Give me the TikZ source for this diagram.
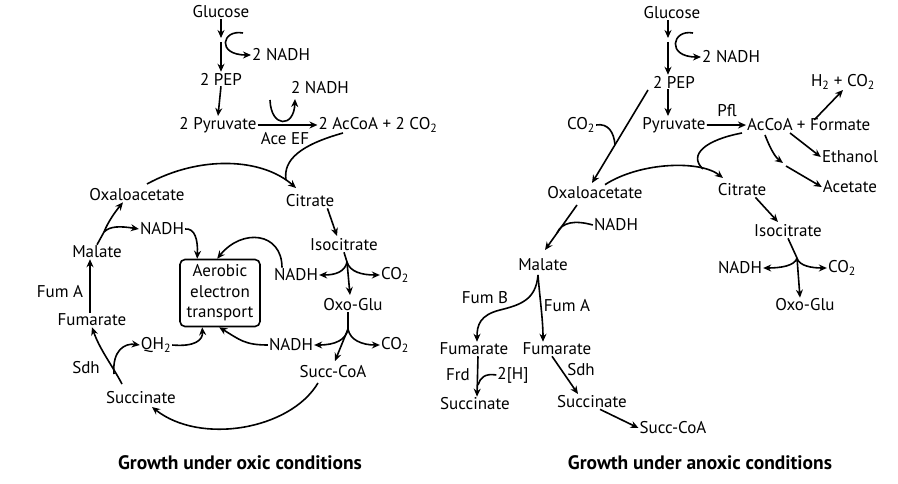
\documentclass[tikz,border=0pt]{standalone}
\usepackage{fontspec}
\setmainfont{PT Sans}
\usetikzlibrary{arrows.meta,calc}
\begin{document}
\begin{tikzpicture}[x=1pt,y=-1pt,
  txt/.style={font=\fontsize{17}{20}\selectfont, inner sep=1pt},
  ttl/.style={font=\fontsize{19.5}{22}\selectfont\bfseries, inner sep=1pt},
  arr/.style={-{Stealth[length=8pt,width=7pt]}, line width=1.6pt},
  ln/.style={line width=1.6pt},
  ebox/.style={draw, line width=1.6pt, rounded corners=5pt, minimum width=80pt, minimum height=67pt, align=center, inner sep=1pt, font=\fontsize{17}{20.5}\selectfont}]
\useasboundingbox (0,0) rectangle (898,484);
% ---------------- LEFT: oxic ----------------
\node[txt] (gluL) at (221,12) {Glucose};
\node[txt,anchor=west] (nadh1L) at (251,55) {2 NADH};
\node[txt] (pepL) at (221,79) {2 PEP};
\node[txt] (pyrL) at (218,125) {2 Pyruvate};
\node[txt] (aceL) at (285,139) {Ace EF};
\node[txt] (nadh2L) at (320,88) {2 NADH};
\node[txt] (accoaL) at (378,125) {2 AcCoA + 2 CO\textsubscript{2}};
\node[txt] (oaaL) at (137,195) {Oxaloacetate};
\node[txt] (citL) at (310,201) {Citrate};
\node[txt] (isoL) at (344,245) {Isocitrate};
\node[txt] (nadh3L) at (296,275) {NADH};
\node[txt] (co2aL) at (395,275) {CO\textsubscript{2}};
\node[txt] (oxoL) at (353,305) {Oxo-Glu};
\node[txt] (nadh4L) at (291,345) {NADH};
\node[txt] (co2bL) at (395,345) {CO\textsubscript{2}};
\node[txt] (succoaL) at (333,372) {Succ-CoA};
\node[txt] (succL) at (141,398) {Succinate};
\node[txt] (fumL) at (92,320) {Fumarate};
\node[txt] (malL) at (97,252) {Malate};
\node[txt] (nadh5L) at (162,229) {NADH};
\node[txt] (qh2L) at (156,345) {QH\textsubscript{2}};
\node[txt] (sdhL) at (86,368) {Sdh};
\node[txt] (fumAL) at (60,292) {Fum A};
\node[ebox] (box) at (220,293) {Aerobic\\electron\\transport};
\node[ttl] (titleL) at (240,463) {Growth under oxic conditions};

\coordinate (g1) at (221,38);
\coordinate (g2) at (221,42);
\draw[arr] (gluL.south) -- (g1);
\draw[arr] (g2) -- (pepL.north);
\coordinate (n1s) at (243,33);
\draw[arr] (n1s) .. controls (222,29) and (216,55) .. (nadh1L.west);
\draw[arr] (pepL.south) -- (pyrL.north);
\draw[arr] (pyrL.east) -- (accoaL.west);
\coordinate (n2s) at (270,100);
\coordinate (n2e) at (295,99);
\draw[arr] (n2s) .. controls (271,128) and (294,128) .. (n2e);
\coordinate (citIn) at (296,188);
\coordinate (acs) at (343,133);
\draw[ln] (acs) .. controls (300,145) and (283,160) .. (286,180);
\coordinate (oaas) at (147,184);
\draw[arr] (oaas) .. controls (200,155) and (262,158) .. (citIn);
\draw[arr] (citL.south east) ++(-8,0) coordinate (cs) -- (337,236);
% isocitrate branch
\coordinate (ib) at (347,262);
\draw[ln] (isoL.south) -- (ib);
\draw[arr] (ib) .. controls (345,272) and (335,275) .. (nadh3L.east);
\draw[arr] (ib) .. controls (350,272) and (362,275) .. (co2aL.west);
\draw[arr] (ib) -- (350,295);
% oxo branch
\coordinate (ob) at (348,329);
\draw[ln] (oxoL.south) ++(-5,0) -- (ob);
\draw[arr] (ob) .. controls (346,340) and (335,345) .. (nadh4L.east);
\draw[arr] (ob) .. controls (350,340) and (362,345) .. (co2bL.west);
\draw[arr] (ob) -- (335,361);
% succ-coa -> succinate
\coordinate (scs) at (318,383);
\draw[arr] (scs) .. controls (290,430) and (200,445) .. (152,407);
% succinate -> fumarate
\coordinate (ss) at (122,384);
\draw[arr] (ss) .. controls (112,365) and (100,350) .. (fumL.south);
\coordinate (sq) at (114,374);
\draw[arr] (sq) .. controls (112,350) and (125,343) .. (qh2L.west);
\draw[arr] (qh2L.east) .. controls (195,347) and (203,340) .. ($(box.south west)+(23,0)$);
% fumarate -> malate
\draw[arr] (fumL.north) ++(-2,0) -- (malL.south -| 90,0);
% malate branch
\coordinate (mb) at (104,232);
\draw[ln] (malL.north) -- (mb);
\draw[arr] (mb) .. controls (108,222) and (115,212) .. (oaaL.south -| 123,0);
\draw[arr] (mb) .. controls (110,226) and (120,226) .. (nadh5L.west);
\draw[arr] (nadh5L.east) .. controls (195,228) and (198,240) .. ($(box.north west)+(18,0)$);
\draw[arr] (nadh3L.north) ++(-14,0) .. controls (282,232) and (242,228) .. ($(box.north west)+(18,0)+(20,0)$);
\draw[arr] (nadh4L.west) .. controls (245,345) and (240,340) .. ($(box.south west)+(20,0)+(20,0)$);

% ---------------- RIGHT: anoxic ----------------
\node[txt] (gluR) at (672,13) {Glucose};
\node[txt,anchor=west] (nadh1R) at (701,57) {2 NADH};
\node[txt] (pepR) at (674,82) {2 PEP};
\node[txt] (pyrR) at (674,125) {Pyruvate};
\node[txt] (pflR) at (727,111) {Pfl};
\node[txt,anchor=base west] (accoaR) at (746,131) {AcCoA};
\node[txt,anchor=base west,inner xsep=0pt] (formR) at (accoaR.base east) {\,+ Formate};
\node[txt] (h2R) at (843,82) {H\textsubscript{2} + CO\textsubscript{2}};
\node[txt] (ethR) at (850,157) {Ethanol};
\node[txt] (acetR) at (850,187) {Acetate};
\node[txt] (citR) at (742,190) {Citrate};
\node[txt] (oaaR) at (595,193) {Oxaloacetate};
\node[txt] (co2R) at (581,125) {CO\textsubscript{2}};
\node[txt] (nadhOR) at (616,225) {NADH};
\node[txt] (malR) at (543,265) {Malate};
\node[txt] (fumBR) at (485,298) {Fum B};
\node[txt] (fumAR) at (567,306) {Fum A};
\node[txt] (fum1R) at (474,349) {Fumarate};
\node[txt] (fum2R) at (557,349) {Fumarate};
\node[txt] (frdR) at (458,375) {Frd};
\node[txt] (hR) at (513,375) {2[H]};
\node[txt] (succ1R) at (475,404) {Succinate};
\node[txt] (sdhR) at (581,370) {Sdh};
\node[txt] (succ2R) at (592,402) {Succinate};
\node[txt] (succoaR) at (673,428) {Succ-CoA};
\node[txt] (isoR) at (788,231) {Isocitrate};
\node[txt] (nadhR) at (740,268) {NADH};
\node[txt] (co2cR) at (842,268) {CO\textsubscript{2}};
\node[txt] (oxoR) at (805,305) {Oxo-Glu};
\node[ttl] (titleR) at (700,463) {Growth under anoxic conditions};

\coordinate (h1) at (668,38);
\coordinate (h2) at (668,42);
\draw[arr] (gluR.south -| h1) -- (h1);
\draw[arr] (h2) -- (pepR.north -| h2);
\coordinate (r1s) at (693,33);
\draw[arr] (r1s) .. controls (672,29) and (666,57) .. (nadh1R.west);
\draw[arr] (pepR.south -| h2) -- (pyrR.north -| h2);
\draw[arr] (pyrR.east) -- (accoaR.west);
\draw[arr] (formR.north) ++(-18,2) -- (843,90);
\draw[arr] (790,133) -- (ethR.west);
\coordinate (am) at (783,163);
\draw[arr] (765,135) .. controls (770,148) and (775,157) .. (am);
\draw[arr] (786,166) -- (acetR.west);
\coordinate (citInR) at (723,178);
\draw[ln] (742,133) .. controls (705,140) and (688,155) .. (703,169);
\draw[arr] (oaaR.north) ++(10,-1) .. controls (640,162) and (700,160) .. (citInR);
% PEP -> oxaloacetate with CO2
\coordinate (pt) at (648,90);
\coordinate (pb) at (592,183);
\draw[arr] (pt) -- (pb);
\draw[ln] (co2R.east) .. controls (608,123) and (614,132) .. (615,145);
% oaa -> malate
\coordinate (ot) at (577,205);
\draw[arr] (ot) -- (545,250);
\draw[ln] (nadhOR.west) .. controls (575,220) and (562,222) .. (557,233);
% malate branch
\coordinate (mbr) at (538,275);
\draw[arr] (mbr) .. controls (540,300) and (543,320) .. (fum2R.north -| 543,0);
\draw[arr] (mbr) .. controls (536,300) and (520,305) .. (500,310) .. controls (480,315) and (477,325) .. (fum1R.north -| 477,0);
% Frd
\draw[arr] (fum1R.south -| 478,0) -- (succ1R.north -| 477,0);
\draw[ln] (hR.west) .. controls (485,373) and (480,378) .. (478,385);
% Sdh
\draw[arr] (fum2R.south -| 552,0) -- (578,394);
\draw[arr] (succ2R.south east) ++(-28,0) -- (succoaR.west);
% citrate -> isocitrate
\draw[arr] (citR.south east) ++(-12,0) -- (778,222);
\coordinate (ibr) at (797,258);
\draw[ln] (isoR.south) -- (ibr);
\draw[arr] (ibr) .. controls (795,266) and (780,268) .. (nadhR.east);
\draw[arr] (ibr) .. controls (799,266) and (812,268) .. (co2cR.west);
\draw[arr] (ibr) -- (oxoR.north -| 800,0);
\end{tikzpicture}
\end{document}
